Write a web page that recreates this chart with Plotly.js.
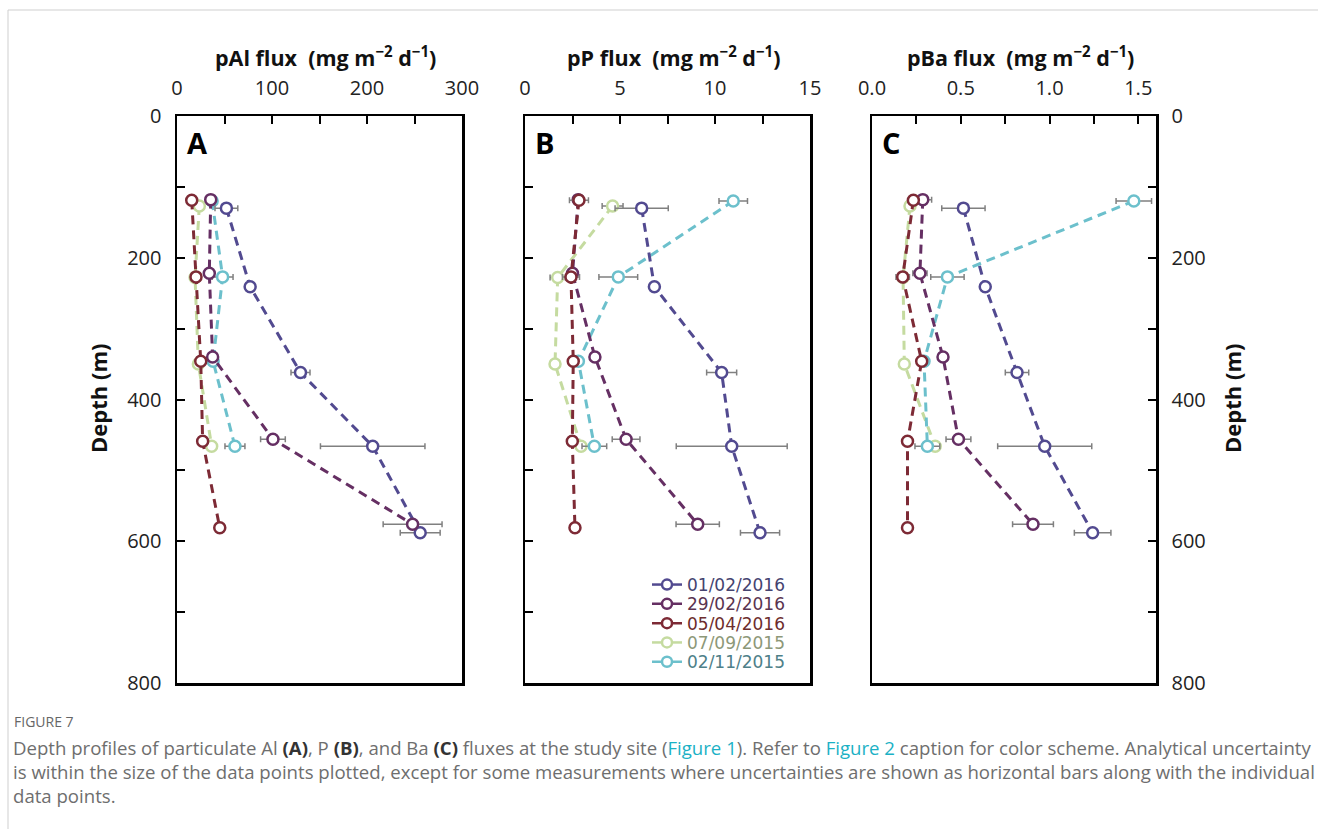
<!DOCTYPE html>
<html>
<head>
<meta charset="utf-8">
<script src="https://cdn.plot.ly/plotly-3.0.1.min.js"></script>
<style>
html,body{margin:0;padding:0;background:#fff;}
#chart{width:1318px;height:829px;}
</style>
</head>
<body>
<div id="chart"></div>
<script>
// ---------- data ----------
const seriesNames = ['01/02/2016', '29/02/2016', '05/04/2016', '07/09/2015', '02/11/2015'];
const lineColors  = ['#524a90', '#652f63', '#7d2a35', '#c5dba0', '#6cc0cc'];
const labelColors = ['#454370', '#5a3450', '#6d2d2d', '#8d9878', '#4e8088'];

// depth (m) of each trap for each deployment
const depth0102 = [130, 241, 362, 466, 588];
const depth2902 = [118, 222, 340, 456, 576];
const depth0504 = [119, 227, 346, 459, 581];
const depth0709 = [127, 228, 350, 466];
const depth0211 = [120, 227, 346, 466];

// pAl flux (mg m-2 d-1)
const al0102 = [52, 77, 130, 206, 256];   const alErr0102 = [12, null, 10, 55, 21];
const al2902 = [35.5, 34, 37.5, 101, 248]; const alErr2902 = [null, null, null, 13, 31];
const al0504 = [15.5, 20, 25, 27, 45];    const alErr0504 = [null, null, null, null, null];
const al0709 = [23.5, 19, 22.5, 36.5];    const alErr0709 = [null, null, null, null];
const al0211 = [37, 48, 38, 61];          const alErr0211 = [null, 11, null, 10.5];

// pP flux
const p0102 = [6.14, 6.81, 10.35, 10.88, 12.37]; const pErr0102 = [1.4, null, 0.79, 2.92, 1.03];
const p2902 = [2.8, 2.5, 3.68, 5.32, 9.09];      const pErr2902 = [null, null, null, 0.73, 1.14];
const p0504 = [2.84, 2.42, 2.54, 2.49, 2.63];    const pErr0504 = [0.5, 0.45, null, null, null];
const p0709 = [4.61, 1.72, 1.58, 2.95];          const pErr0709 = [0.55, 0.4, null, null];
const p0211 = [10.96, 4.91, 2.81, 3.65];         const pErr0211 = [0.75, 1.02, null, 0.65];

// pBa flux
const ba0102 = [0.515, 0.638, 0.817, 0.973, 1.243]; const baErr0102 = [0.122, null, 0.066, 0.265, 0.103];
const ba2902 = [0.286, 0.27, 0.40, 0.487, 0.907];   const baErr2902 = [0.05, 0.04, null, 0.07, 0.115];
const ba0504 = [0.233, 0.173, 0.28, 0.20, 0.20];    const baErr0504 = [null, 0.038, null, null, null];
const ba0709 = [0.214, 0.175, 0.182, 0.356];        const baErr0709 = [null, null, null, null];
const ba0211 = [1.475, 0.425, 0.293, 0.312];        const baErr0211 = [0.1, 0.094, null, 0.07];

const xTitles = ['pAl flux  (mg m<sup>−2</sup> d<sup>−1</sup>)', 'pP flux  (mg m<sup>−2</sup> d<sup>−1</sup>)', 'pBa flux  (mg m<sup>−2</sup> d<sup>−1</sup>)'];
const panelLetters = ['A', 'B', 'C'];
const yTitle = 'Depth (m)';

// ---------- build ----------
const W = 1318, H = 829;
const px = v => v / W, py = v => 1 - v / H;
const FONT = '"Open Sans", "Noto Sans", sans-serif';
const LFONT = '"DejaVu Sans", "Open Sans", sans-serif';

const depths = [depth0102, depth2902, depth0504, depth0709, depth0211];
const panels = [
  {vals: [al0102, al2902, al0504, al0709, al0211], errs: [alErr0102, alErr2902, alErr0504, alErr0709, alErr0211]},
  {vals: [p0102, p2902, p0504, p0709, p0211], errs: [pErr0102, pErr2902, pErr0504, pErr0709, pErr0211]},
  {vals: [ba0102, ba2902, ba0504, ba0709, ba0211], errs: [baErr0102, baErr2902, baErr0504, baErr0709, baErr0211]}
];
const drawOrder = [3, 4, 0, 1, 2];

const traces = [];
panels.forEach((pn, pi) => {
  const ax = pi === 0 ? '' : String(pi + 1);
  drawOrder.forEach(si => {
    traces.push({
      type: 'scatter', mode: 'lines+markers',
      x: pn.vals[si], y: depths[si],
      xaxis: 'x' + ax, yaxis: 'y' + ax,
      name: seriesNames[si], showlegend: false,
      line: {color: lineColors[si], width: 3, dash: '9px,6px'},
      marker: {symbol: 'circle', size: 11, color: '#fff', line: {color: lineColors[si], width: 2.5}},
      error_x: {type: 'data', array: pn.errs[si], visible: true, color: '#808080', thickness: 1.5, width: 3},
      hoverinfo: 'x+y'
    });
  });
});

const layout = {
  width: W, height: H,
  margin: {l: 0, r: 0, t: 0, b: 0},
  paper_bgcolor: '#fff', plot_bgcolor: '#fff',
  showlegend: true,
  annotations: [], shapes: []
};

// legend entries: one small legend per row so that rows sit close together
seriesNames.forEach((nm, si) => {
  const lg = si === 0 ? 'legend' : 'legend' + (si + 1);
  traces.push({
    type: 'scatter', mode: 'lines+markers', x: [null], y: [null],
    xaxis: 'x2', yaxis: 'y2', legend: lg,
    name: '<span style="color:' + labelColors[si] + '">' + nm + '</span>',
    showlegend: true,
    line: {color: lineColors[si], width: 2.5},
    marker: {symbol: 'circle', size: 10, color: '#fff', line: {color: lineColors[si], width: 2.5}}
  });
  layout[lg] = {x: px(647), y: py(585 + 19.3 * si), xanchor: 'left', yanchor: 'middle',
                bgcolor: 'rgba(0,0,0,0)', itemwidth: 30,
                font: {family: LFONT, size: 17, color: '#333'}};
});

const xDomains = [[177, 462], [525, 810], [872, 1156]];
const yDom = [py(683), py(116)];
const xRanges = [[0, 300], [0, 15], [0, 1.6]];
const xDticks = [100, 5, 0.5];
const xMinor = [50, 2.5, 0.25];
const xFmts = ['d', 'd', '.1f'];

const tickStyle = {ticks: 'inside', ticklen: 8, tickwidth: 2, tickcolor: '#000'};

[0, 1, 2].forEach(i => {
  const ax = i === 0 ? '' : String(i + 1);
  layout['xaxis' + ax] = Object.assign({
    domain: [px(xDomains[i][0]), px(xDomains[i][1])],
    range: xRanges[i], side: 'top', anchor: 'y' + ax,
    tick0: 0, dtick: xDticks[i], tickformat: xFmts[i],
    minor: Object.assign({dtick: xMinor[i], tick0: 0}, tickStyle),
    showline: true, linewidth: 2.5, linecolor: '#000', mirror: true,
    showgrid: false, zeroline: false, fixedrange: true,
    ticklabelstandoff: 11,
    tickfont: {family: FONT, size: 20, color: '#222'}
  }, tickStyle);
  layout['yaxis' + ax] = Object.assign({
    domain: yDom, range: [800, 0], anchor: 'x' + ax,
    side: i === 2 ? 'right' : 'left',
    showticklabels: i !== 1,
    tick0: 0, dtick: 200,
    minor: Object.assign({dtick: 100, tick0: 0}, tickStyle),
    showline: true, linewidth: 2.5, linecolor: '#000', mirror: true,
    showgrid: false, zeroline: false, fixedrange: true,
    ticklabelstandoff: 9,
    tickfont: {family: FONT, size: 20, color: '#222'}
  }, tickStyle);

  const cx = (xDomains[i][0] + xDomains[i][1]) / 2;
  layout.annotations.push({
    xref: 'paper', yref: 'paper', x: px(cx + 6), y: py(56), xanchor: 'center', yanchor: 'middle',
    text: '<b>' + xTitles[i] + '</b>', showarrow: false,
    font: {family: FONT, size: 21.5, color: '#111'}
  });
  layout.annotations.push({
    xref: 'paper', yref: 'paper', x: px(xDomains[i][0] + 8), y: py(142), xanchor: 'left', yanchor: 'middle',
    text: '<b>' + panelLetters[i] + '</b>', showarrow: false,
    font: {family: FONT, size: 29, color: '#000'}
  });
});

// y axis titles
layout.annotations.push({
  xref: 'paper', yref: 'paper', x: px(98), y: py(399), xanchor: 'center', yanchor: 'middle',
  text: '<b>' + yTitle + '</b>', textangle: -90, showarrow: false, font: {family: FONT, size: 22, color: '#111'}
});
layout.annotations.push({
  xref: 'paper', yref: 'paper', x: px(1232), y: py(399), xanchor: 'center', yanchor: 'middle',
  text: '<b>' + yTitle + '</b>', textangle: -90, showarrow: false, font: {family: FONT, size: 22, color: '#111'}
});

// caption
const capColor = '#6e6e6e', linkColor = '#1bb1c5';
const captionHead = 'FIGURE 7';
const captionLines = [
  'Depth profiles of particulate Al <b style="color:#333">(A)</b>, P <b style="color:#333">(B)</b>, and Ba <b style="color:#333">(C)</b> fluxes at the study site (<span style="color:' + linkColor + '">Figure 1</span>). Refer to <span style="color:' + linkColor + '">Figure 2</span> caption for color scheme. Analytical uncertainty',
  'is within the size of the data points plotted, except for some measurements where uncertainties are shown as horizontal bars along with the individual',
  'data points.'
];
layout.annotations.push({
  xref: 'paper', yref: 'paper', x: px(12), y: py(721), xanchor: 'left', yanchor: 'middle',
  text: captionHead, showarrow: false, font: {family: FONT, size: 14, color: '#666'}
});
captionLines.forEach((t, k) => {
  layout.annotations.push({
    xref: 'paper', yref: 'paper', x: px(11), y: py(747 + 24 * k), xanchor: 'left', yanchor: 'middle',
    text: t, showarrow: false, font: {family: FONT, size: 18.6, color: capColor}
  });
});

// page frame lines
layout.shapes.push({type: 'line', xref: 'paper', yref: 'paper', x0: px(8), x1: 1, y0: py(10), y1: py(10), line: {color: '#cfcfcf', width: 1}});
layout.shapes.push({type: 'line', xref: 'paper', yref: 'paper', x0: px(8), x1: px(8), y0: py(10), y1: 0, line: {color: '#cfcfcf', width: 1}});

Plotly.newPlot('chart', traces, layout, {displayModeBar: false, staticPlot: true});
</script>
</body>
</html>
